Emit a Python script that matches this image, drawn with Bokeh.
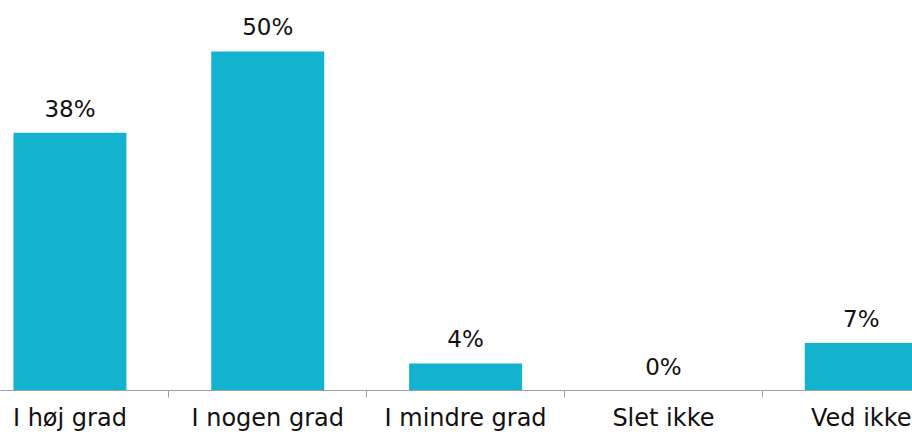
from bokeh.plotting import figure
from bokeh.models import ColumnDataSource, Range1d, FixedTicker, LinearAxis
from bokeh.core.properties import value
from bokeh.embed import file_html
from bokeh.resources import INLINE

categories = ["I høj grad", "I nogen grad", "I mindre grad", "Slet ikke", "Ved ikke"]
values = [38, 50, 4, 0, 7]
labels = ["38%", "50%", "4%", "0%", "7%"]

xs = list(range(len(categories)))
source = ColumnDataSource(data=dict(x=xs, v=values, lab=labels))

p = figure(width=912, height=434, output_backend="svg", toolbar_location=None,
           x_range=Range1d(-0.351, 4.259), y_range=Range1d(0, 57.52),
           x_axis_location=None, y_axis_location=None,
           min_border_left=0, min_border_right=0, min_border_top=0, min_border_bottom=44)
p.outline_line_color = None
p.xgrid.visible = False
p.ygrid.visible = False
p.background_fill_color = "white"
p.border_fill_color = "white"

p.vbar(x="x", top="v", width=0.571, bottom=0, source=source,
       fill_color="#13B2CE", line_color=None)

p.text(x="x", y="v", text="lab", source=source, text_align="center",
       text_baseline="alphabetic", y_offset=-24, text_font=value("DejaVu Sans"),
       text_font_size="23px", text_color="#111111")

ax = LinearAxis(ticker=FixedTicker(ticks=xs, minor_ticks=[0.5, 1.5, 2.5, 3.5]))
ax.major_label_overrides = {i: c for i, c in enumerate(categories)}
ax.major_tick_line_color = None
ax.major_tick_out = 0
ax.major_tick_in = 0
ax.minor_tick_line_color = "#A0A0A0"
ax.minor_tick_out = 7
ax.minor_tick_in = 0
ax.axis_line_color = "#A0A0A0"
ax.axis_line_width = 1
ax.major_label_standoff = 6
ax.major_label_text_font = "DejaVu Sans"
ax.major_label_text_font_size = "24px"
ax.major_label_text_color = "#111111"
p.add_layout(ax, "below")

open("out.html", "w").write(file_html(p, INLINE))
